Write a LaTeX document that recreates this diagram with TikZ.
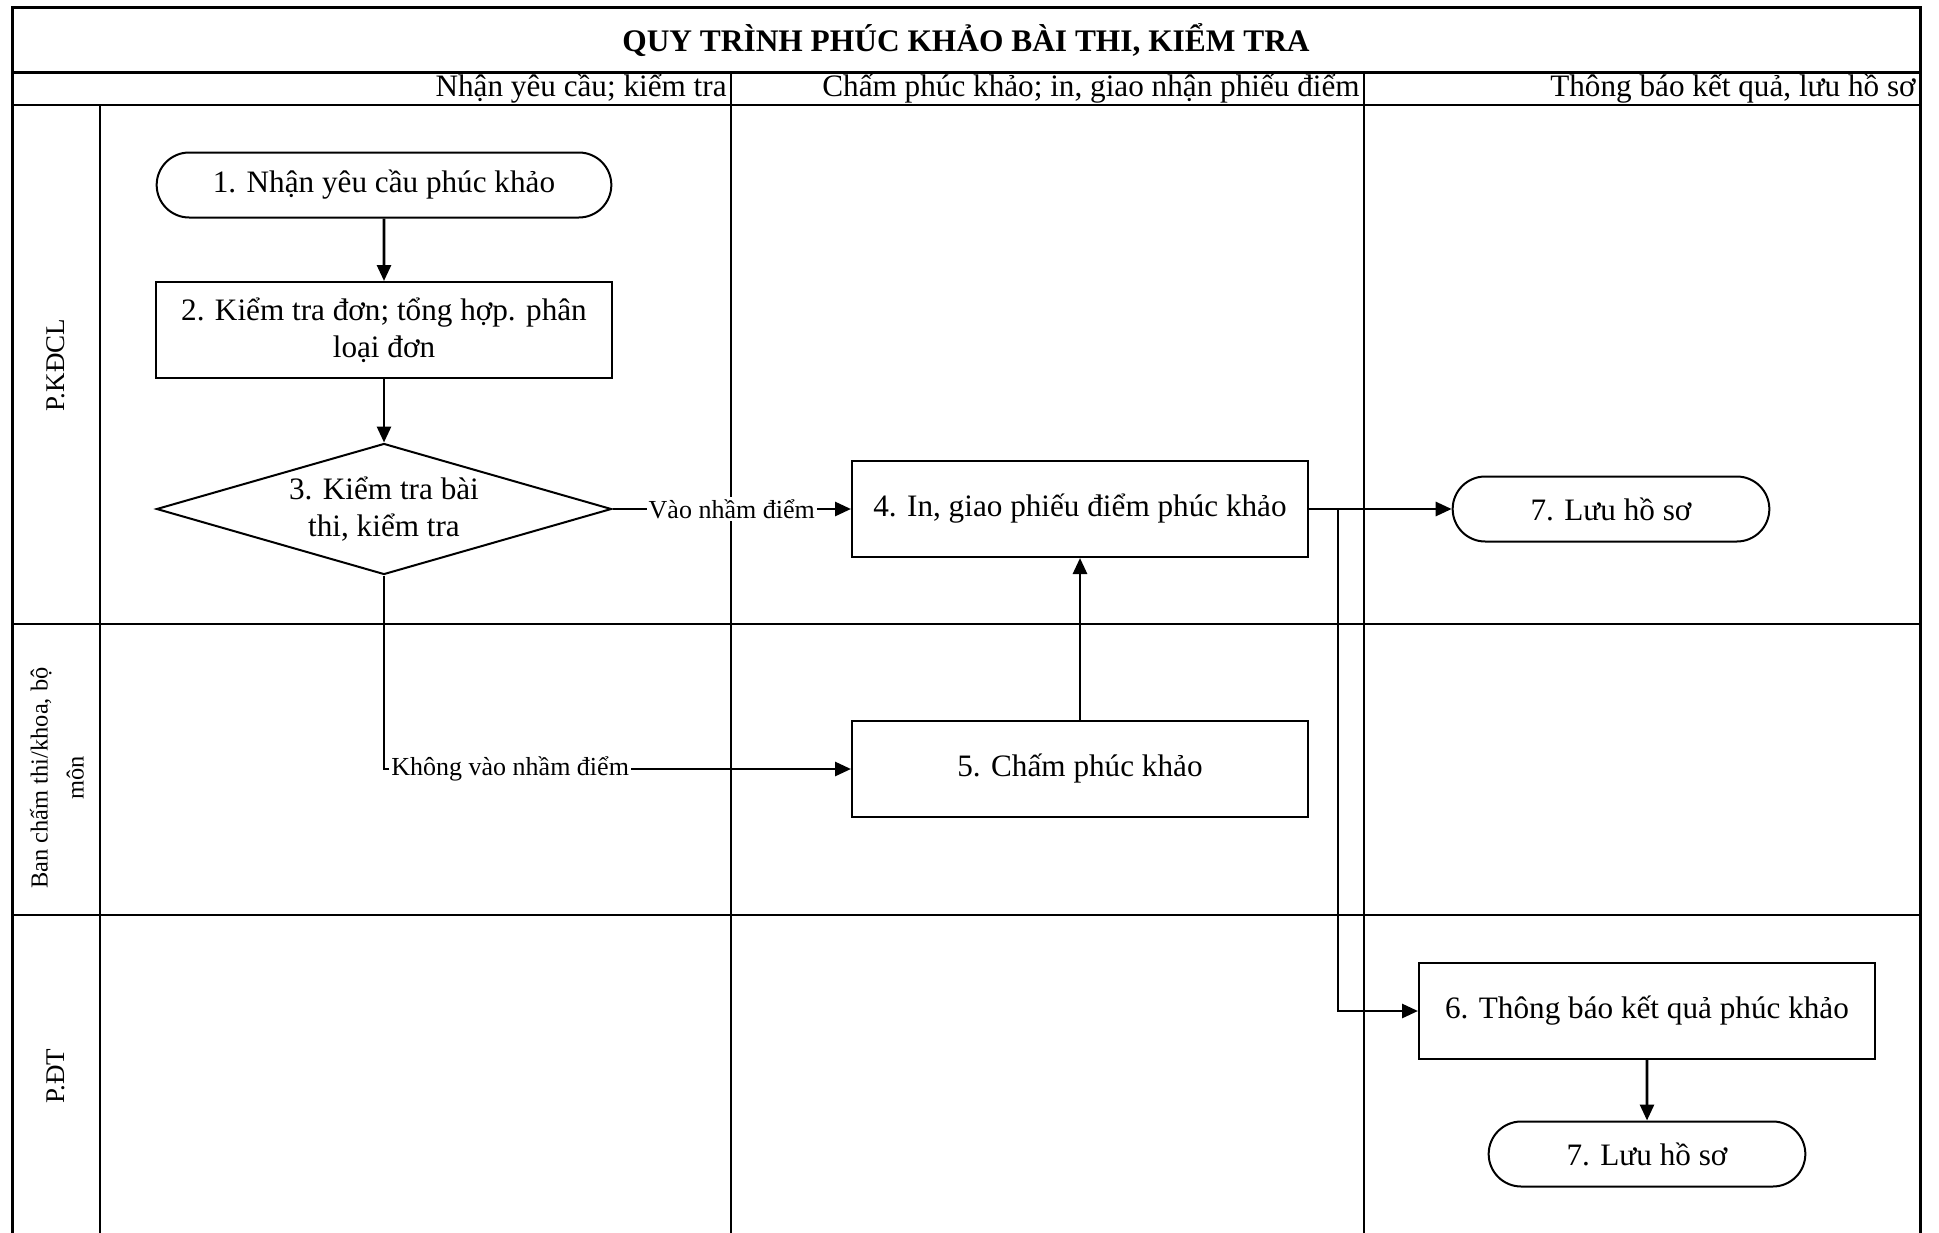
\documentclass[tikz,border=0pt]{standalone}
\usepackage{fontspec}
\setmainfont{Liberation Serif}
\usetikzlibrary{shapes.geometric,shapes.misc,arrows.meta}

\begin{document}
\begin{tikzpicture}[x=0.5pt, y=-0.5pt,
    every node/.style={font=\fontsize{15.6}{18.5}\selectfont},
    lane/.style={line width=1pt},
    box/.style={draw, line width=1pt, minimum width=228pt, minimum height=48pt, align=center},
    term/.style={draw, rounded rectangle, line width=1pt, minimum height=32.5pt},
    choice/.style={draw, diamond, aspect=3.47, inner sep=0pt, line width=1pt,
      minimum width=227.5pt, minimum height=65.5pt, align=center},
    arr/.style={-{Triangle[length=8pt,width=7pt]}, line width=1.4pt},
    lbl/.style={fill=white, inner sep=1pt, font=\fontsize{13}{15}\selectfont}]
  \useasboundingbox (0,0) rectangle (1939,1232);

  % Frame and lanes
  \draw[line width=1.5pt] (12,7) rectangle (1920,1237);
  \draw[line width=1.5pt] (12,72) -- (1920,72);
  \draw[line width=1.2pt] (12,105) -- (1920,105);
  \draw[lane] (12,624) -- (1920,624);
  \draw[lane] (12,915) -- (1920,915);
  \draw[lane] (100,105) -- (100,1237);
  \draw[lane] (731,72) -- (731,1237);
  \draw[lane] (1364,72) -- (1364,1237);

  % Title and column headers
  \node[font=\fontsize{15.7}{18}\selectfont\bfseries] (title) at (966,40) {QUY TRÌNH PHÚC KHẢO BÀI THI, KIỂM TRA};
  \node[anchor=east, inner sep=1pt] (hdA) at (729,89) {Nhận yêu cầu; kiểm tra};
  \node[anchor=east, inner sep=1pt] (hdB) at (1362,89) {Chấm phúc khảo; in, giao nhận phiếu điểm};
  \node[anchor=east, inner sep=1pt] (hdC) at (1918,89) {Thông báo kết quả, lưu hồ sơ};

  % Lane names
  \node[rotate=90, font=\fontsize{13.5}{16}\selectfont] (kdcl) at (56,365) {P.KĐCL};
  \node[rotate=90, align=center, font=\fontsize{12.2}{18}\selectfont] (banct) at (57,778) {Ban chấm thi/khoa, bộ\\môn};
  \node[rotate=90, font=\fontsize{13.5}{16}\selectfont] (pdt) at (56,1076) {P.ĐT};

  % Steps
  \node[term, minimum width=234pt] (nhan) at (384,185) {1. Nhận yêu cầu phúc khảo};
  \node[box] (kiemdon) at (384,330) {2. Kiểm tra đơn; tổng hợp. phân\\loại đơn};
  \node[choice] (kiembai) at (384,509) {3. Kiểm tra bài\\thi, kiểm tra};
  \node[box] (ingiao) at (1080,509) {4. In, giao phiếu điểm phúc khảo};
  \node[box] (cham) at (1080,769) {5. Chấm phúc khảo};
  \node[box] (thongbao) at (1647,1011) {6. Thông báo kết quả phúc khảo};
  \node[term, minimum width=165pt] (luuA) at (1611,509) {7. Lưu hồ sơ};
  \node[term, minimum width=165pt] (luuB) at (1647,1154) {7. Lưu hồ sơ};

  % Connectors
  \draw[arr] (nhan) -- (kiemdon);
  \draw[arr] (kiemdon) -- (kiembai);
  \draw[arr] (kiembai.east) -- node[lbl] {Vào nhầm điểm} (ingiao.west);
  \draw[arr] (kiembai.south) |- node[lbl, pos=0.5, anchor=west, xshift=2pt] {Không vào nhầm điểm} (cham.west);
  \draw[arr] (cham) -- (ingiao);
  \draw[arr] (ingiao.east) -- (luuA.west);
  \draw[arr] (ingiao.east) -- ++(29,0) |- (thongbao.west);
  \draw[arr] (thongbao) -- (luuB);
\end{tikzpicture}
\end{document}
